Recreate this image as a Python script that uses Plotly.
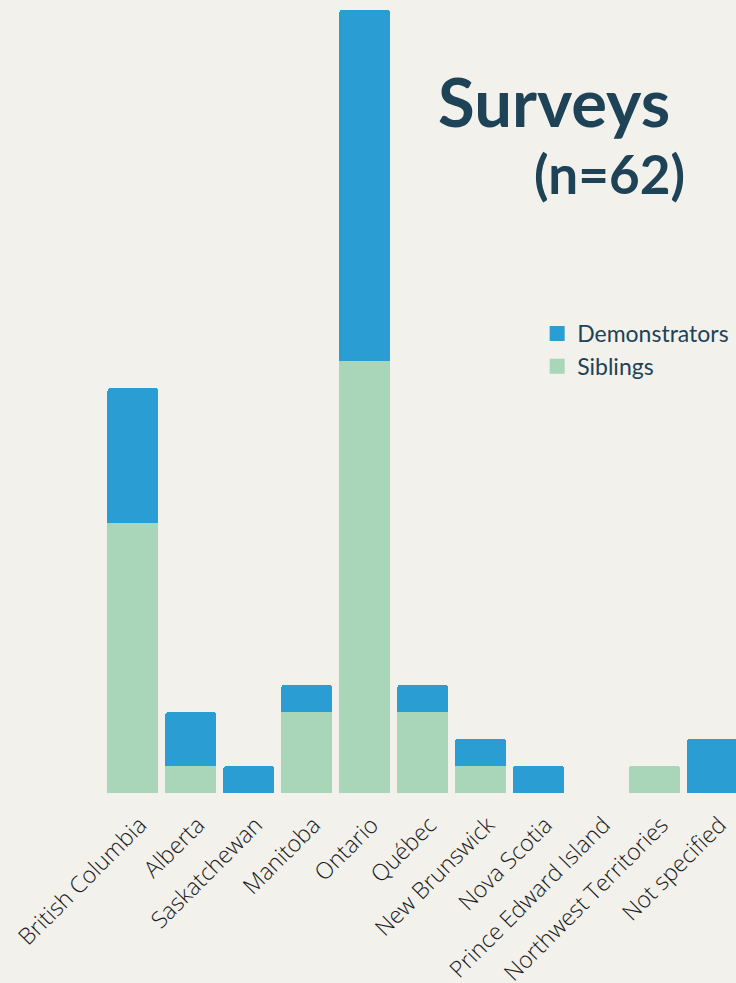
import plotly.graph_objects as go

categories = ["British Columbia", "Alberta", "Saskatchewan", "Manitoba", "Ontario",
              "Québec", "New Brunswick", "Nova Scotia", "Prince Edward Island",
              "Northwest Territories", "Not specified"]
siblings = [10, 1, 0, 3, 16, 3, 1, 0, 0, 1, 0]
demonstrators = [5, 2, 1, 1, 13, 1, 1, 1, 0, 0, 2]

BG = "#f2f1ec"
BLUE = "#2a9dd2"
GREEN = "#a9d6b8"
DARK = "#1e4256"

W, H = 736, 983
ML, MB, MT = 103.5, 190, 0
pitch = 58.0
unit = 27.0
plot_w = W - ML
plot_h = H - MB - MT

xpos = list(range(len(categories)))
tick_shift = 0.12

fig = go.Figure()
fig.add_trace(go.Bar(name="Siblings", x=xpos, y=siblings, showlegend=False,
                     marker=dict(color=GREEN, line=dict(width=0))))
fig.add_trace(go.Bar(name="Demonstrators", x=xpos, y=demonstrators, showlegend=False,
                     marker=dict(color=BLUE, line=dict(width=0))))
# legend entries
fig.add_trace(go.Scatter(name="Siblings", x=[None], y=[None], mode="markers",
                         marker=dict(symbol="square", size=15, color=GREEN)))
fig.add_trace(go.Scatter(name="Demonstrators", x=[None], y=[None], mode="markers",
                         marker=dict(symbol="square", size=15, color=BLUE)))

fig.update_layout(
    width=W, height=H,
    barmode="stack", bargap=0.12, barcornerradius=3,
    paper_bgcolor=BG, plot_bgcolor=BG,
    margin=dict(l=ML, r=0, t=MT, b=MB, pad=0, autoexpand=False),
    font=dict(family="Lato", color="#222222"),
    showlegend=True,
    legend=dict(x=(537 - ML) / plot_w, y=1 - (312 - MT) / plot_h,
                xanchor="left", yanchor="top", traceorder="reversed",
                font=dict(size=23, color=DARK, family="Lato"),
                bgcolor="rgba(0,0,0,0)", tracegroupgap=0, itemwidth=30),
    xaxis=dict(range=[-0.5, -0.5 + plot_w / pitch], showgrid=False, zeroline=False,
               showline=False, ticks="", tickangle=-45, ticklabelstandoff=13,
               automargin=False,
               tickmode="array", tickvals=[p + tick_shift for p in xpos], ticktext=categories,
               tickfont=dict(size=23, color="#1a1a1a", family="Open Sans", weight=300)),
    yaxis=dict(range=[0, plot_h / unit], visible=False, showgrid=False, zeroline=False,
               automargin=False),
    annotations=[
        dict(text="<b>Surveys</b>", xref="paper", yref="paper",
             x=(672 - ML) / plot_w, y=1 - (101 - MT) / plot_h,
             xanchor="right", yanchor="middle", showarrow=False,
             font=dict(size=67, color=DARK, family="Lato")),
        dict(text="<b>(n=62)</b>", xref="paper", yref="paper",
             x=(687 - ML) / plot_w, y=1 - (174 - MT) / plot_h,
             xanchor="right", yanchor="middle", showarrow=False,
             font=dict(size=53, color=DARK, family="Lato")),
    ],
)

fig.write_html("out.html")
